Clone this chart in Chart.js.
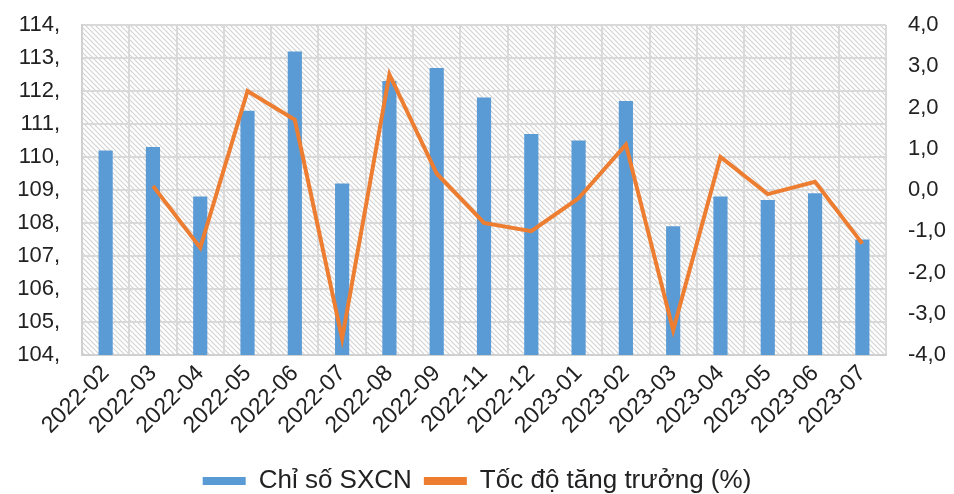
<!DOCTYPE html>
<html>
<head>
<meta charset="utf-8">
<script src="https://cdn.jsdelivr.net/npm/chart.js@4"></script>
<style>
  body { margin: 0; background: #fff; }
  .wrap { width: 954px; height: 494px; }
</style>
</head>
<body>
<div class="wrap"><canvas id="c" width="954" height="494"></canvas></div>
<script>
var months = ['2022-02', '2022-03', '2022-04', '2022-05', '2022-06', '2022-07', '2022-08', '2022-09', '2022-11',
              '2022-12', '2023-01', '2023-02', '2023-03', '2023-04', '2023-05', '2023-06', '2023-07']
var chiSo = [110.2, 110.3, 108.8, 111.4, 113.2, 109.2, 112.3, 112.7, 111.8, 110.7, 110.5, 111.7, 107.9, 108.8, 108.7, 108.9, 107.5]
var tocDo = [null, 0.1, -1.4, 2.4, 1.7, -3.6, 2.8, 0.4, -0.8, -1.0, -0.2, 1.1, -3.4, 0.8, -0.1, 0.2, -1.3]

// hatched plot background
function hatch(ctx) {
  var p = document.createElement('canvas')
  p.width = 5; p.height = 5
  var g = p.getContext('2d')
  g.fillStyle = '#fff'
  g.fillRect(0, 0, 5, 5)
  g.strokeStyle = '#d2d2d2'
  g.lineWidth = 1.1
  g.beginPath()
  g.moveTo(-1, -1); g.lineTo(6, 6)
  g.moveTo(-1, 4); g.lineTo(1, 6)
  g.moveTo(4, -1); g.lineTo(6, 1)
  g.stroke()
  return ctx.createPattern(p, 'repeat')
}

var bgPlugin = {
  id: 'bg',
  beforeDraw: function (chart) {
    var a = chart.chartArea, ctx = chart.ctx
    ctx.save()
    ctx.fillStyle = hatch(ctx)
    ctx.fillRect(a.left, a.top, a.right - a.left, a.bottom - a.top)
    ctx.restore()
  }
}

var fam = 'Liberation Sans, Arial, sans-serif'

new Chart(document.getElementById('c'), {
  type: 'bar',
  data: {
    labels: months,
    datasets: [
      { type: 'line', label: 'Tốc độ tăng trưởng (%)', data: tocDo, yAxisID: 'y1',
        borderColor: '#ED7D31', backgroundColor: '#ED7D31', borderWidth: 4, pointRadius: 0, tension: 0, order: 0 },
      { label: 'Chỉ số SXCN', data: chiSo, yAxisID: 'y', backgroundColor: '#5B9BD5',
        barPercentage: 0.3, categoryPercentage: 1, order: 1 }
    ]
  },
  options: {
    responsive: false,
    animation: false,
    layout: { padding: { left: 0, right: 0, top: 25, bottom: -10 } },
    plugins: {
      legend: {
        position: 'bottom',
        reverse: true,
        labels: {
          font: { family: fam, size: 26 }, color: '#222', padding: 12, boxWidth: 43, boxHeight: 8,
          generateLabels: function (chart) {
            return chart.data.datasets.map(function (d, i) {
              return { text: d.label, fillStyle: d.backgroundColor, strokeStyle: d.backgroundColor,
                       lineWidth: 0, datasetIndex: i, fontColor: '#222' }
            })
          }
        }
      },
      tooltip: { enabled: false }
    },
    scales: {
      x: {
        grid: { color: '#d9d9d9', lineWidth: 2, drawTicks: false, offset: true },
        border: { color: '#d0d0d0', width: 2 },
        ticks: { font: { family: fam, size: 23 }, color: '#222', maxRotation: 45, minRotation: 45, padding: 5, autoSkip: false },
        afterFit: function (s) { s.paddingLeft = 0; s.paddingRight = 0; s.height = 101 }
      },
      y: {
        position: 'left', min: 104, max: 114,
        grid: { color: '#d9d9d9', lineWidth: 2, drawTicks: false },
        border: { color: '#d0d0d0', width: 2 },
        ticks: { stepSize: 1, font: { family: fam, size: 22 }, color: '#222', padding: 22,
                 callback: function (v) { return v + ',' } },
        afterFit: function (s) { s.width = 82; s.paddingTop = 0; s.paddingBottom = 0 }
      },
      y1: {
        position: 'right', min: -4, max: 4,
        grid: { drawOnChartArea: false, drawTicks: false },
        border: { display: false },
        ticks: { stepSize: 1, font: { family: fam, size: 22 }, color: '#222', padding: 22,
                 callback: function (v) { return v.toFixed(1).replace('.', ',') } },
        afterFit: function (s) { s.width = 68; s.paddingTop = 0; s.paddingBottom = 0 }
      }
    }
  },
  plugins: [bgPlugin]
})
</script>
</body>
</html>
